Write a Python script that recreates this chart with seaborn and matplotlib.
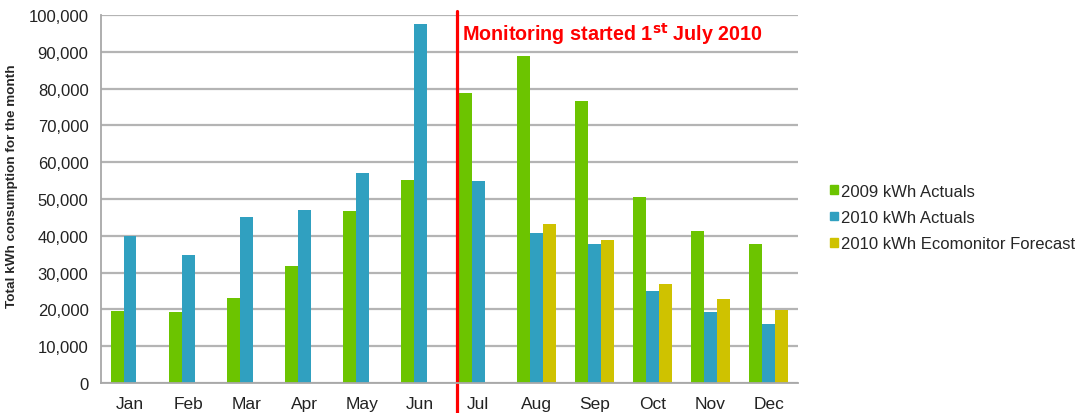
import pandas as pd
import seaborn as sns
import matplotlib
import matplotlib.pyplot as plt
from matplotlib.ticker import FuncFormatter, FixedLocator

#%% data
months = ['Jan', 'Feb', 'Mar', 'Apr', 'May', 'Jun', 'Jul', 'Aug', 'Sep', 'Oct', 'Nov', 'Dec']
actuals_2009 = [19600, 19200, 23100, 31700, 46800, 55300, 78900, 88900, 76700, 50500, 41200, 37800]
actuals_2010 = [40000, 34800, 45000, 47100, 57200, 97600, 54900, 40700, 37700, 25100, 19200, 16000]
forecast_2010 = [None, None, None, None, None, None, None, 43100, 38900, 26900, 22800, 19800]
series_names = ['2009 kWh Actuals', '2010 kWh Actuals', '2010 kWh Ecomonitor Forecast']
yticks = list(range(0, 100001, 10000))

#%% plot setup
sns.set_style("white")
plt.rcParams['font.family'] = ['Liberation Sans', 'DejaVu Sans']

colors = ['#6cc400', '#30a0c0', '#cfc200']
palette = dict(zip(series_names, colors))

df = pd.DataFrame({'month': months * 3,
                   'kwh': actuals_2009 + actuals_2010 + forecast_2010,
                   'series': [series_names[0]] * 12 + [series_names[1]] * 12 + [series_names[2]] * 12})
df['kwh'] = pd.to_numeric(df['kwh'])

fig = plt.figure(figsize=(10.75, 4.14), dpi=100)
ax = fig.add_axes([0.094, 0.0725, 0.648, 0.8885])
sns.barplot(data=df, x='month', y='kwh', hue='series', order=months, hue_order=series_names,
            palette=palette, width=0.66, saturation=1, errorbar=None, linewidth=0,
            ax=ax, legend=False)

ax.set_xlim(-0.5, 11.5)
ax.set_ylim(0, 100000)
ax.set_yticks(yticks)
ax.yaxis.set_major_formatter(FuncFormatter(lambda v, p: f'{int(v):,}'))
ax.grid(axis='y', color='#b4b4b4', linewidth=1.6)
ax.set_axisbelow(True)
for s in ['top', 'right']:
    ax.spines[s].set_visible(False)
for s in ['left', 'bottom']:
    ax.spines[s].set_color('#a8a8a8')
    ax.spines[s].set_linewidth(1.3)

ax.tick_params(axis='y', length=5, color='#a8a8a8', labelsize=12, labelcolor='#222222', pad=4)
ax.tick_params(axis='x', which='major', length=0, labelsize=12.5, labelcolor='#222222', pad=9.5)
ax.xaxis.set_minor_locator(FixedLocator([i - 0.5 for i in range(13)]))
ax.tick_params(axis='x', which='minor', length=4, color='#a8a8a8', width=1.3)

ax.set_xlabel(None)
ax.set_ylabel('Total kWh consumption for the month', fontsize=9.7, fontweight='bold')
ax.yaxis.set_label_coords(-0.119, 0.538)

# monitoring start marker
ax.axvline(5.64, ymin=-0.1, ymax=1.01, color='#ff0000', linewidth=2.3, clip_on=False)
ax.text(5.72, 95200, r'Monitoring started 1$^{\mathbf{st}}$ July 2010', color='#ff0000',
        fontsize=14.2, fontweight='bold', va='center', ha='left')

handles = [matplotlib.patches.Patch(color=c, label=n) for c, n in zip(colors, series_names)]
ax.legend(handles=handles, loc='center left', bbox_to_anchor=(1.025, 0.45), frameon=False,
          fontsize=12, handlelength=0.45, handleheight=0.45, handletextpad=0.2, labelspacing=0.68)

fig.savefig('out.png', dpi=100)
